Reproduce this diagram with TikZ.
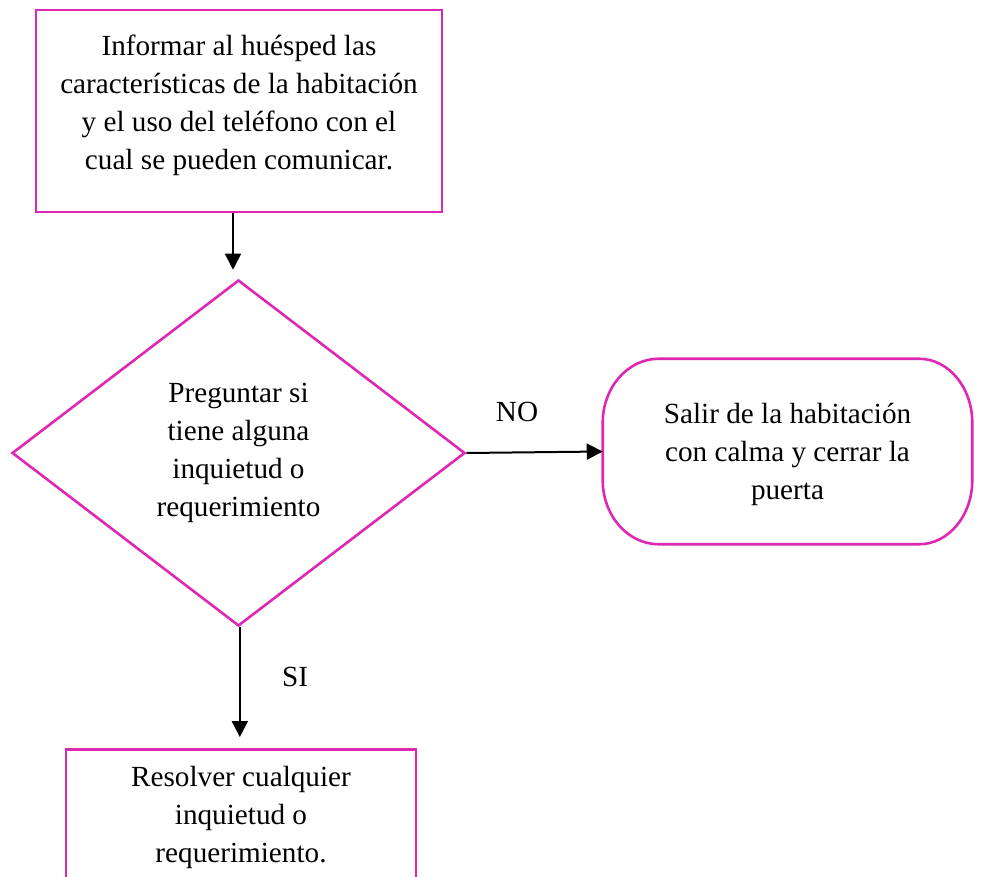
\documentclass[tikz,border=0pt]{standalone}
\usepackage{fontspec}
\setmainfont{Liberation Serif}
\usetikzlibrary{shapes.geometric,arrows.meta}
\definecolor{flowpink}{RGB}{222,40,180}
% one unit = one pixel = 0.75pt
\tikzset{
  boxline/.style={draw=flowpink, line width=1.95pt},
  procbox/.style={boxline, rectangle, inner sep=0pt},
  decision/.style={boxline, diamond, inner sep=0pt},
  flowtext/.style={align=center, font=\fontsize{21.9pt}{28.5pt}\selectfont},
  flowarrow/.style={draw=black, line width=1.5pt, -{Triangle[width=12pt,length=12pt]}},
  edgelabel/.style={font=\fontsize{21.9pt}{28.5pt}\selectfont, inner sep=0pt}
}
\begin{document}
\begin{tikzpicture}[x=0.75pt, y=-0.75pt]
\useasboundingbox (0,0) rectangle (981,877);

% top process box
\node[procbox, minimum width=304.5pt, minimum height=151.5pt] (info) at (239,111) {};
\node[flowtext] (infotext) at (239,105)
  {Informar al huésped las\\características de la habitación\\y el uso del teléfono con el\\cual se pueden comunicar.};

% decision
\node[decision, flowtext, minimum width=339.75pt, minimum height=259.5pt] (ask) at (238.5,453)
  {Preguntar si\\tiene alguna\\inquietud o\\requerimiento};

% terminal on the NO branch: box with elliptical corners
\node[rectangle, inner sep=0pt, minimum width=276.75pt, minimum height=138.75pt] (leave) at (787.5,451.5) {};
\draw[boxline]
  ([xshift=42pt]leave.north west) -- ([xshift=-40pt]leave.north east)
  arc[start angle=90, end angle=0, x radius=40pt, y radius=48pt]
  -- ([yshift=48pt]leave.south east)
  arc[start angle=0, end angle=-90, x radius=40pt, y radius=48pt]
  -- ([xshift=42pt]leave.south west)
  arc[start angle=270, end angle=180, x radius=42pt, y radius=48pt]
  -- ([yshift=-48pt]leave.north west)
  arc[start angle=180, end angle=90, x radius=42pt, y radius=48pt] -- cycle;
\node[flowtext] (leavetext) at (787.5,454)
  {Salir de la habitación\\con calma y cerrar la\\puerta};

% process box on the SI branch (runs past the lower edge)
\node[procbox, minimum width=262.5pt, minimum height=150pt, anchor=north] (solve) at (241,748) {};
\node[flowtext, anchor=north] (solvetext) at (241,762)
  {Resolver cualquier\\inquietud o\\requerimiento.};

% connectors
\coordinate (infoout) at ([xshift=-4.5pt]info.south);
\draw[flowarrow, shorten >=6.75pt] (infoout) -- (infoout |- ask.north);
\draw[flowarrow] (ask.east) -- (leave.west);
\coordinate (askout) at ([xshift=1pt]ask.south);
\draw[flowarrow, shorten >=8.25pt] (askout) -- (askout |- solve.north);

% branch labels
\node[edgelabel] (nolabel) at (517,412) {NO};
\node[edgelabel] (silabel) at (295,677) {SI};
\end{tikzpicture}
\end{document}
